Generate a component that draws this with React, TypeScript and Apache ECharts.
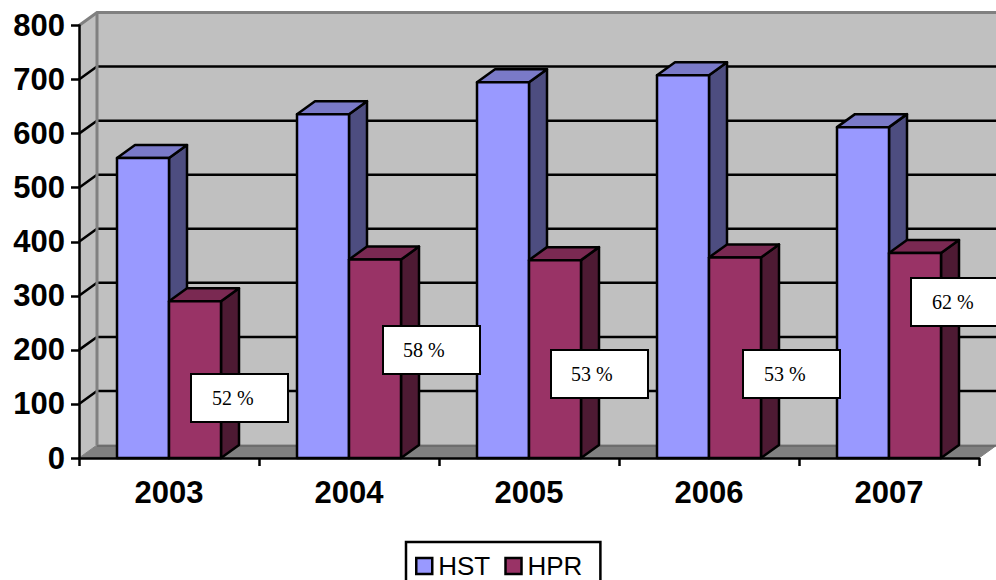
import React, { useEffect, useRef } from "react";
import * as echarts from "echarts";

const categories = ["2003", "2004", "2005", "2006", "2007"];
const hstValues = [555, 636, 695, 708, 612];
const hprValues = [290, 367, 366, 371, 379];
const yTicks = [0, 100, 200, 300, 400, 500, 600, 700, 800];
const percentLabels = ["52 %", "58 %", "53 %", "53 %", "62 %"];
const labelBoxes = [
  [191, 374, 21],
  [383, 326, 20],
  [551, 350, 20],
  [743, 350, 21],
  [911, 278, 21],
];

const DX = 18;
const DY = -13;
const BAR_W = 52;

function barSeries(name: string, values: number[], offset: number, front: string, top: string, side: string) {
  return {
    name,
    type: "custom",
    z: 3,
    itemStyle: { color: front, borderColor: "#000", borderWidth: 2 },
    data: values.map((v, i) => [i, v]),
    encode: { x: 0, y: 1 },
    renderItem: (_: any, api: any) => {
      const p = api.coord([api.value(0), api.value(1)]);
      const b = api.coord([api.value(0), 0]);
      const x0 = p[0] + offset;
      const x1 = x0 + BAR_W;
      const stroke = { stroke: "#000", lineWidth: 2.5, lineJoin: "round" };
      return {
        type: "group",
        children: [
          {
            type: "polygon",
            shape: { points: [[x1, p[1]], [x1 + DX, p[1] + DY], [x1 + DX, b[1] + DY], [x1, b[1]]] },
            style: { fill: side, ...stroke },
          },
          {
            type: "polygon",
            shape: { points: [[x0, p[1]], [x0 + DX, p[1] + DY], [x1 + DX, p[1] + DY], [x1, p[1]]] },
            style: { fill: top, ...stroke },
          },
          { type: "rect", shape: { x: x0, y: p[1], width: BAR_W, height: b[1] - p[1] }, style: { fill: front, ...stroke } },
        ],
      };
    },
  };
}

const wallSeries = {
  type: "custom",
  z: 1,
  silent: true,
  data: yTicks.map((t) => [0, t]),
  encode: { y: 1 },
  renderItem: (params: any, api: any) => {
    const t = api.value(1);
    const left = params.coordSys.x;
    const right = left + params.coordSys.width;
    const y = api.coord([0, t])[1];
    const y0 = api.coord([0, 0])[1];
    const yTop = api.coord([0, yTicks[yTicks.length - 1]])[1];
    const children: any[] = [];
    if (params.dataIndex === 0) {
      children.push(
        { type: "rect", shape: { x: left + DX, y: yTop + DY, width: right - left, height: y0 - yTop }, style: { fill: "#C0C0C0" } },
        { type: "polygon", shape: { points: [[left, yTop], [left + DX, yTop + DY], [left + DX, y0 + DY], [left, y0]] }, style: { fill: "#C0C0C0" } },
        { type: "polygon", shape: { points: [[left, y0], [left + DX, y0 + DY], [right + DX, y0 + DY], [right, y0]] }, style: { fill: "#808080", stroke: "#808080", lineWidth: 1 } },
        { type: "line", shape: { x1: left + DX, y1: y0 + DY + 1, x2: right + DX, y2: y0 + DY + 1 }, style: { stroke: "#5a5a5a", lineWidth: 1 } },
      );
    } else {
      const isTop = t === yTicks[yTicks.length - 1];
      const color = isTop ? "#808080" : "#000";
      children.push(
        { type: "polyline", shape: { points: [[left, y], [left + DX, y + DY], [right + DX, y + DY]] }, style: { stroke: color, lineWidth: isTop ? 3 : 2.5, fill: "none" } },
      );
      if (isTop) {
        children.push({ type: "line", shape: { x1: left + DX, y1: yTop + DY, x2: left + DX, y2: y0 + DY }, style: { stroke: "#808080", lineWidth: 3 } });
      }
    }
    return { type: "group", children };
  },
};

export default function App() {
  const ref = useRef<HTMLDivElement>(null);
  useEffect(() => {
    const chart = echarts.init(ref.current!, null, { renderer: "svg" });
    const graphic: any[] = [];
    labelBoxes.forEach((b, i) => {
      graphic.push({
        type: "rect",
        z: 20,
        shape: { x: b[0], y: b[1], width: 97, height: 48 },
        style: { fill: "#fff", stroke: "#000", lineWidth: 2 },
      });
      graphic.push({
        type: "text",
        z: 21,
        x: b[0] + b[2],
        y: b[1] + 24,
        style: { text: percentLabels[i], fill: "#000", font: '20px "Liberation Serif"', verticalAlign: "middle" },
      });
    });
    chart.setOption({
      animation: false,
      backgroundColor: "#fff",
      grid: { left: 79, top: 25.5, width: 900, height: 432.5, containLabel: false },
      xAxis: {
        type: "category",
        data: categories,
        boundaryGap: true,
        axisLine: { lineStyle: { color: "#000", width: 2.5 } },
        axisTick: { show: true, alignWithLabel: false, length: 8, lineStyle: { color: "#000", width: 2.5 } },
        axisLabel: { color: "#000", fontFamily: "Liberation Sans", fontWeight: "bold", fontSize: 31, margin: 19 },
        splitLine: { show: false },
        z: 5,
      },
      yAxis: {
        type: "value",
        min: 0,
        max: 800,
        interval: 100,
        axisLine: { show: true, lineStyle: { color: "#000", width: 2.5 } },
        axisTick: { show: true, length: 8, lineStyle: { color: "#000", width: 2.5 } },
        axisLabel: { color: "#000", fontFamily: "Liberation Sans", fontWeight: "bold", fontSize: 31, margin: 14, showMinLabel: true, showMaxLabel: true },
        splitLine: { show: false },
        z: 5,
      },
      legend: {
        left: 406,
        top: 542,
        orient: "horizontal",
        data: ["HST", "HPR"],
        icon: "rect",
        itemWidth: 16,
        itemHeight: 16,
        itemGap: 14,
        padding: [11, 18, 30, 9],
        borderColor: "#000",
        borderWidth: 2.5,
        backgroundColor: "#fff",
        selectedMode: false,
        itemStyle: { borderColor: "#000", borderWidth: 2.5 },
        textStyle: { color: "#000", fontFamily: "Liberation Sans", fontSize: 26, padding: [0, 0, 0, 1] },
      },
      graphic,
      series: [
        wallSeries,
        barSeries("HST", hstValues, -BAR_W, "#9999FF", "#7A7AC8", "#4D4D80"),
        barSeries("HPR", hprValues, 0, "#993366", "#7A2952", "#4D1A33"),
      ],
    });
    return () => chart.dispose();
  }, []);
  return <div ref={ref} style={{ position: "absolute", left: 0, top: 0, width: 996, height: 580, overflow: "hidden" }} />;
}
